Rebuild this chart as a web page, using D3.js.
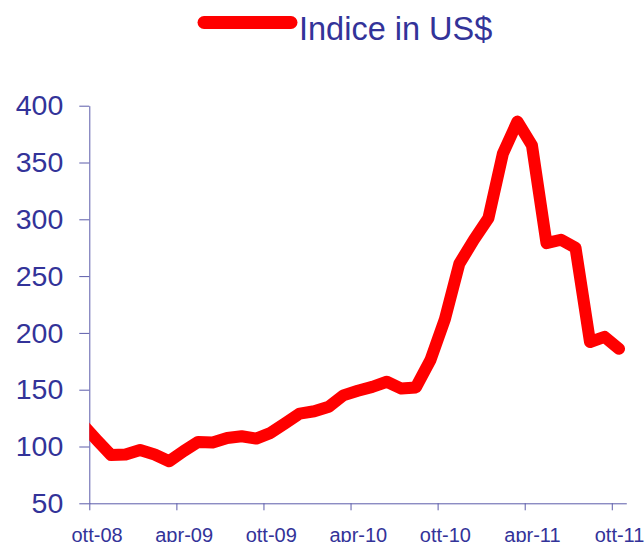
<!DOCTYPE html>
<html>
<head>
<meta charset="utf-8">
<script src="https://cdn.jsdelivr.net/npm/d3@7"></script>
<style>
    body { margin: 0; background: #ffffff; }
    svg { display: block; font-family: "Liberation Sans", Arial, sans-serif; }
</style>
</head>
<body>
<div id="chart"></div>
<script>
'use strict';

// Monthly index values (first month sits left of the axis and gets clipped).
var months = ["set-08", "ott-08", "nov-08", "dic-08", "gen-09", "feb-09", "mar-09",
    "apr-09", "mag-09", "giu-09", "lug-09", "ago-09", "set-09", "ott-09", "nov-09",
    "dic-09", "gen-10", "feb-10", "mar-10", "apr-10", "mag-10", "giu-10", "lug-10",
    "ago-10", "set-10", "ott-10", "nov-10", "dic-10", "gen-11", "feb-11", "mar-11",
    "apr-11", "mag-11", "giu-11", "lug-11", "ago-11", "set-11", "ott-11"];
var values = [120, 106, 92.5, 93, 97, 93, 87,
    96, 104, 103.5, 107.5, 109, 107, 112, 120.5,
    129, 131, 135, 145, 149, 152.5, 157, 151,
    152, 176, 212, 261, 282, 301, 358, 386,
    365, 279, 282, 275, 192, 196.5, 186];

var xTickLabels = ["ott-08", "apr-09", "ott-09", "apr-10", "ott-10", "apr-11", "ott-11"];
var yTicks = [50, 100, 150, 200, 250, 300, 350, 400];
var seriesName = "Indice in US$";

var WIDTH = 644;
var HEIGHT = 542;
var plotLeft = 89.3, plotRight = 626.3, plotTop = 105.7, plotBottom = 503.3;

var textColor = "#333399";
var axisColor = "#5c5caa";

var svg = d3.select("#chart")
    .append("svg")
    .attr("width", WIDTH)
    .attr("height", HEIGHT);

// Months counted from ott-08 (index 0); the axis spans 37 months.
var firstMonth = months.indexOf("ott-08");
var x = d3.scaleLinear()
    .domain([0, 37])
    .range([plotLeft, plotRight]);

var y = d3.scaleLinear()
    .domain([50, 400])
    .range([plotBottom, plotTop]);

var data = values.map(function (v, i) {
    return { m: months[i], idx: i - firstMonth, v: v };
});

// Legend
svg.append("line")
    .attr("x1", 204)
    .attr("x2", 291)
    .attr("y1", 22.5)
    .attr("y2", 22.5)
    .style("stroke", "#ff0000")
    .style("stroke-width", 13)
    .style("stroke-linecap", "round");

svg.append("text")
    .attr("x", 299)
    .attr("y", 39.5)
    .attr("font-size", 32.5)
    .style("fill", textColor)
    .text(seriesName);

// Y axis
var yAxis = svg.append("g")
    .attr("transform", "translate(" + plotLeft + ",0)")
    .call(d3.axisLeft(y)
        .tickValues(yTicks)
        .tickSize(10)
        .tickPadding(16)
        .tickSizeOuter(0));

yAxis.select(".domain").style("stroke", axisColor);
yAxis.selectAll(".tick line").style("stroke", axisColor);
yAxis.selectAll(".tick text")
    .attr("font-size", 28.5)
    .attr("font-family", "Liberation Sans, Arial, sans-serif")
    .style("fill", textColor);

// X axis: tick marks on month boundaries, labels at month centres
var tickIdx = xTickLabels.map(function (l) { return months.indexOf(l) - firstMonth; });

var xAxis = svg.append("g")
    .attr("transform", "translate(0," + plotBottom + ")")
    .call(d3.axisBottom(x)
        .tickValues(tickIdx)
        .tickFormat("")
        .tickSize(7)
        .tickSizeOuter(0));

xAxis.select(".domain").style("stroke", axisColor);
xAxis.selectAll(".tick line").style("stroke", axisColor);

var xLabels = svg.append("g")
    .attr("transform", "translate(0," + plotBottom + ")")
    .call(d3.axisBottom(x)
        .tickValues(tickIdx.map(function (d) { return d + 0.5; }))
        .tickFormat(function (d, i) { return xTickLabels[i]; })
        .tickSize(0)
        .tickPadding(25));

xLabels.select(".domain").remove();
xLabels.selectAll(".tick text")
    .attr("font-size", 20)
    .attr("font-family", "Liberation Sans, Arial, sans-serif")
    .style("fill", textColor);

// Clip the line to the plot area
svg.append("defs")
    .append("clipPath")
    .attr("id", "plotClip")
    .append("rect")
    .attr("x", plotLeft)
    .attr("y", 0)
    .attr("width", WIDTH - plotLeft)
    .attr("height", HEIGHT);

var line = d3.line()
    .x(function (d) { return x(d.idx + 0.5); })
    .y(function (d) { return y(d.v); });

svg.append("path")
    .datum(data)
    .attr("d", line)
    .attr("clip-path", "url(#plotClip)")
    .style("fill", "none")
    .style("stroke", "#ff0000")
    .style("stroke-width", 12)
    .style("stroke-linejoin", "round")
    .style("stroke-linecap", "round");
</script>
</body>
</html>
